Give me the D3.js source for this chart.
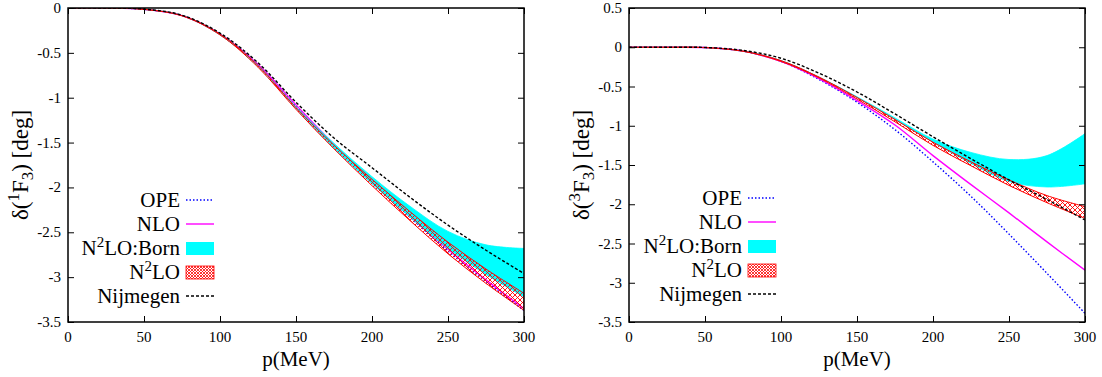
<!DOCTYPE html>
<html><head><meta charset="utf-8"><script src="https://cdn.jsdelivr.net/npm/d3@7"></script></head>
<body style="margin:0">
<script>
// momentum grid (MeV)
const pGrid = [0, 25, 50, 75, 100, 125, 150, 175, 200, 225, 250, 275, 300];

// 1F3 phase shifts (deg)
const f1_ope    = [0, 0, -0.015, -0.085, -0.29, -0.63, -1.09, -1.53, -1.94, -2.33, -2.71, -3.05, -3.37];
const f1_nlo    = [0, 0, -0.015, -0.085, -0.29, -0.63, -1.08, -1.52, -1.93, -2.32, -2.69, -3.03, -3.35];
const f1_bornLo = [0, 0, -0.015, -0.085, -0.30, -0.65, -1.12, -1.56, -1.96, -2.33, -2.68, -2.97, -3.22];
const f1_bornHi = [0, 0, -0.015, -0.085, -0.29, -0.64, -1.10, -1.51, -1.88, -2.21, -2.49, -2.64, -2.68];
const f1_n2loLo = [0, 0, -0.015, -0.087, -0.30, -0.66, -1.13, -1.57, -1.98, -2.37, -2.74, -3.07, -3.37];
const f1_n2loHi = [0, 0, -0.015, -0.085, -0.29, -0.64, -1.11, -1.53, -1.91, -2.27, -2.61, -2.91, -3.18];
const f1_nijm   = [0, 0, -0.012, -0.08, -0.28, -0.61, -1.05, -1.45, -1.78, -2.11, -2.42, -2.70, -2.96];

// 3F3 phase shifts (deg)
const f3_ope    = [0, 0, -0.004, -0.05, -0.18, -0.41, -0.70, -1.05, -1.46, -1.90, -2.38, -2.88, -3.39];
const f3_nlo    = [0, 0, -0.004, -0.05, -0.18, -0.40, -0.68, -0.99, -1.38, -1.75, -2.11, -2.48, -2.84];
const f3_bornLo = [0, 0, -0.004, -0.05, -0.17, -0.38, -0.64, -0.92, -1.21, -1.48, -1.71, -1.78, -1.74];
const f3_bornHi = [0, 0, -0.004, -0.05, -0.17, -0.38, -0.63, -0.90, -1.17, -1.34, -1.43, -1.38, -1.10];
const f3_n2loLo = [0, 0, -0.004, -0.05, -0.18, -0.39, -0.66, -0.95, -1.25, -1.51, -1.76, -1.98, -2.18];
const f3_n2loHi = [0, 0, -0.004, -0.05, -0.17, -0.38, -0.64, -0.92, -1.21, -1.46, -1.69, -1.89, -2.03];
const f3_nijm   = [0, 0, -0.003, -0.04, -0.14, -0.33, -0.57, -0.85, -1.14, -1.42, -1.69, -1.94, -2.20];

const xTicks = [0, 50, 100, 150, 200, 250, 300];
const yTicks1 = [0, -0.5, -1, -1.5, -2, -2.5, -3, -3.5];
const yTicks3 = [0.5, 0, -0.5, -1, -1.5, -2, -2.5, -3, -3.5];
const legendNames = ["OPE", "NLO", "N2LO:Born", "N2LO", "Nijmegen"];

const W = 1102, H = 377;
const svg = d3.select("body").append("svg").attr("width", W).attr("height", H);

// plain text helper: serif face set straight on the element
function txt(parent, x, y, size, anchor) {
  return parent.append("text").attr("x", x).attr("y", y).attr("font-size", size)
    .attr("text-anchor", anchor).attr("fill", "#000")
    .style("font-family", "'Liberation Serif'");
}

const defs = svg.append("defs");
const pat = defs.append("pattern")
  .attr("id", "hatch").attr("patternUnits", "userSpaceOnUse")
  .attr("width", 5).attr("height", 5);
pat.append("path").attr("d", "M0,0L5,5M5,0L0,5")
  .attr("stroke", "#ff0000").attr("stroke-width", 0.9).attr("fill", "none");
const pat2 = defs.append("pattern")
  .attr("id", "hatchLeg").attr("patternUnits", "userSpaceOnUse")
  .attr("width", 3).attr("height", 3);
pat2.append("rect").attr("width", 3).attr("height", 3).attr("fill", "#fff");
pat2.append("path").attr("d", "M0,0L3,3M3,0L0,3")
  .attr("stroke", "#ff0000").attr("stroke-width", 0.8).attr("fill", "none");

function panel(opt) {
  const { x0, x1, y0, y1, yDomain, yTicks, d, sup, labelX, legX, legY } = opt;
  const x = d3.scaleLinear().domain([0, 300]).range([x0, x1]);
  const y = d3.scaleLinear().domain(yDomain).range([y1, y0]);

  const clipId = "clip" + x0;
  defs.append("clipPath").attr("id", clipId)
    .append("rect").attr("x", x0).attr("y", y0).attr("width", x1 - x0).attr("height", y1 - y0);

  const rows = pGrid.map((p, i) => ({
    p, ope: d.ope[i], nlo: d.nlo[i], bLo: d.bornLo[i], bHi: d.bornHi[i],
    nLo: d.n2loLo[i], nHi: d.n2loHi[i], nij: d.nijm[i]
  }));
  const curve = d3.curveCatmullRom.alpha(0.5);
  const line = key => d3.line().x(r => x(r.p)).y(r => y(r[key])).curve(curve);
  const area = (lo, hi) => d3.area().x(r => x(r.p)).y0(r => y(r[lo])).y1(r => y(r[hi])).curve(curve);

  const plot = svg.append("g").attr("clip-path", `url(#${clipId})`);
  plot.append("path").attr("d", line("ope")(rows)).attr("fill", "none")
    .attr("stroke", "#0000ff").attr("stroke-width", 1.4).attr("stroke-dasharray", "1.5,2");
  plot.append("path").attr("d", line("nlo")(rows)).attr("fill", "none")
    .attr("stroke", "#ff00ff").attr("stroke-width", 1.4);
  plot.append("path").attr("d", area("bLo", "bHi")(rows)).attr("fill", "#00ffff")
    .attr("stroke", "#00ffff").attr("stroke-width", 0.8);
  plot.append("path").attr("d", area("nLo", "nHi")(rows)).attr("fill", "url(#hatch)")
    .attr("stroke", "#ff0000").attr("stroke-width", 1);
  plot.append("path").attr("d", line("nij")(rows)).attr("fill", "none")
    .attr("stroke", "#000").attr("stroke-width", 1.4).attr("stroke-dasharray", "3,2");

  // inward mirrored ticks, no axis labels from d3 (labels drawn below)
  const axB = d3.axisBottom(x).tickValues(xTicks).tickSize(-6).tickFormat("");
  const axT = d3.axisTop(x).tickValues(xTicks).tickSize(-6).tickFormat("");
  const axL = d3.axisLeft(y).tickValues(yTicks).tickSize(-6).tickFormat("");
  const axR = d3.axisRight(y).tickValues(yTicks).tickSize(-6).tickFormat("");
  [[axB, `translate(0,${y1})`], [axT, `translate(0,${y0})`], [axL, `translate(${x0},0)`], [axR, `translate(${x1},0)`]]
    .forEach(([ax, tr]) => {
      const a = svg.append("g").attr("transform", tr).call(ax);
      a.select(".domain").remove();
      a.selectAll("text").remove();
      a.selectAll("line").attr("stroke", "#000").attr("stroke-width", 1);
    });

  xTicks.forEach(v => txt(svg, x(v), y1 + 20, 15, "middle").text(v));
  yTicks.forEach(v => txt(svg, x0 - 7, y(v) + 5, 15, "end").text(v));

  svg.append("rect").attr("x", x0).attr("y", y0).attr("width", x1 - x0).attr("height", y1 - y0)
    .attr("fill", "none").attr("stroke", "#000").attr("stroke-width", 1.5);

  // axis titles
  txt(svg, (x0 + x1) / 2, 366, 21, "middle").text("p(MeV)");
  const yl = txt(svg, 0, 0, 23, "middle").attr("transform", `translate(${labelX},165) rotate(-90)`);
  yl.append("tspan").text("δ(");
  yl.append("tspan").attr("font-size", 17).attr("dy", -9).text(sup);
  yl.append("tspan").attr("dy", 9).text("F");
  yl.append("tspan").attr("font-size", 17).attr("dy", 5).text("3");
  yl.append("tspan").attr("dy", -5).text(") [deg]");

  // legend
  legendNames.forEach((name, i) => {
    const cy = legY + i * 24;
    const t = txt(svg, legX, cy + 7, 21, "end");
    if (name.startsWith("N2LO")) {
      t.append("tspan").text("N");
      t.append("tspan").attr("font-size", 15).attr("dy", -8).text("2");
      t.append("tspan").attr("dy", 8).text(name.slice(2));
    } else {
      t.text(name);
    }
    const sx0 = legX + 6, sx1 = legX + 34;
    if (i === 0) svg.append("line").attr("x1", sx0).attr("x2", sx1).attr("y1", cy).attr("y2", cy)
      .attr("stroke", "#0000ff").attr("stroke-width", 1.4).attr("stroke-dasharray", "1.5,2");
    if (i === 1) svg.append("line").attr("x1", sx0).attr("x2", sx1).attr("y1", cy).attr("y2", cy)
      .attr("stroke", "#ff00ff").attr("stroke-width", 1.4);
    if (i === 2) svg.append("rect").attr("x", sx0).attr("y", cy - 6).attr("width", sx1 - sx0).attr("height", 13)
      .attr("fill", "#00ffff");
    if (i === 3) svg.append("rect").attr("x", sx0).attr("y", cy - 6).attr("width", sx1 - sx0).attr("height", 13)
      .attr("fill", "url(#hatchLeg)").attr("stroke", "#ff0000").attr("stroke-width", 0.8);
    if (i === 4) svg.append("line").attr("x1", sx0).attr("x2", sx1).attr("y1", cy).attr("y2", cy)
      .attr("stroke", "#000").attr("stroke-width", 1.4).attr("stroke-dasharray", "3,2");
  });
}

panel({
  x0: 68, x1: 524, y0: 8, y1: 322, yDomain: [-3.5, 0], yTicks: yTicks1, sup: "1", labelX: 28,
  legX: 180, legY: 200,
  d: { ope: f1_ope, nlo: f1_nlo, bornLo: f1_bornLo, bornHi: f1_bornHi, n2loLo: f1_n2loLo, n2loHi: f1_n2loHi, nijm: f1_nijm }
});
panel({
  x0: 629, x1: 1085, y0: 8, y1: 322, yDomain: [-3.5, 0.5], yTicks: yTicks3, sup: "3", labelX: 589,
  legX: 742, legY: 198,
  d: { ope: f3_ope, nlo: f3_nlo, bornLo: f3_bornLo, bornHi: f3_bornHi, n2loLo: f3_n2loLo, n2loHi: f3_n2loHi, nijm: f3_nijm }
});
</script>
</body>
</html>
